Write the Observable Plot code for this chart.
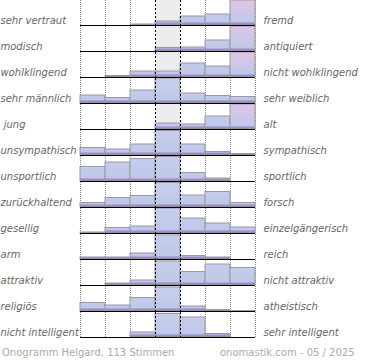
<!DOCTYPE html>
<html><head><meta charset="utf-8">
<script src="https://cdn.jsdelivr.net/npm/d3@7"></script>
<script src="https://cdn.jsdelivr.net/npm/@observablehq/plot@0.6"></script>
<style>
body{margin:0;background:#fff;}
#chart svg{display:block;}
svg text{white-space:pre;}
.cap{position:relative;width:370px;height:20px;font:10px "DejaVu Sans",sans-serif;color:#aaa;}
.cap span{position:absolute;top:7px;white-space:nowrap;}
</style></head><body>
<div id="chart"></div>
<div class="cap"><span style="left:2px">Onogramm Helgard, 113 Stimmen</span><span style="left:220px">onomastik.com - 05 / 2025</span></div>
<script>
const leftLabels = ["sehr vertraut","modisch","wohlklingend","sehr männlich"," jung","unsympathisch","unsportlich","zurückhaltend","gesellig","arm","attraktiv","religiös","nicht intelligent"];
const rightLabels = ["fremd","antiquiert","nicht wohlklingend","sehr weiblich","alt","sympathisch","sportlich","forsch","einzelgängerisch","reich","nicht attraktiv","atheistisch","sehr intelligent"];
// 7 answer steps per scale, left pole -> right pole
const votes = [
  [0, 0, 1, 4, 9, 11, 38],
  [0, 0, 0, 3.5, 4, 11, 42],
  [0, 1.5, 6, 6, 14, 11, 30],
  [8, 5.5, 13, 25, 10, 7.5, 6.5],
  [0, 0, 0, 6, 5, 13, 36],
  [7.5, 6, 11, 24.5, 11, 3.5, 1.5],
  [14.5, 19, 22.5, 24.5, 8.5, 3, 0],
  [4.5, 9.5, 11.5, 24.5, 12, 15.5, 4.5],
  [1, 5.5, 7, 25, 15, 10, 6],
  [2, 2, 6, 24, 3.5, 2, 0],
  [0, 2, 5, 24, 13.5, 21, 17.5],
  [8.5, 6, 13.5, 24, 5, 1.5, 0.5],
  [0, 0, 5, 23.5, 20, 3.5, 0]
];
const steps = 7;
const scaleMax = 25;

const rows = leftLabels.map((left, i) => ({row: i, left, right: rightLabels[i]}));
const bars = votes.flatMap((vals, row) => vals.map((v, col) => ({row, col, v}))).filter(d => d.v > 0);
const mid = Math.floor(steps / 2);
const bounds = d3.range(steps + 1);
const dotted = bounds.filter(b => b !== mid && b !== mid + 1);
const dashed = [mid, mid + 1];

const plot = Plot.plot({
  width: 370, height: 340,
  marginLeft: 80, marginRight: 115, marginTop: 0, marginBottom: 2,
  style: {fontFamily: '"DejaVu Sans", sans-serif', fontSize: "10px", background: "white", overflow: "visible"},
  x: {domain: [0, steps], axis: null},
  y: {domain: [0, scaleMax], insetBottom: 1, clamp: true, axis: null},
  fy: {domain: rows.map(d => d.row), padding: 0, axis: null},
  marks: [
    Plot.rect([mid], {x1: d => d, x2: d => d + 1, fill: "#ececec"}),
    Plot.ruleX(dotted, {stroke: "#888", strokeDasharray: "1,1"}),
    Plot.rect(bars, {filter: d => d.v <= scaleMax, x1: "col", x2: d => d.col + 1, y1: 0, y2: "v", fy: "row", fill: "url(#gBlue)", stroke: "#9a9a9a", strokeWidth: 1}),
    Plot.rect(bars, {filter: d => d.v > scaleMax, x1: "col", x2: d => d.col + 1, y1: 0, y2: "v", fy: "row", fill: "url(#gPink)", stroke: "#9a9a9a", strokeWidth: 1}),
    Plot.ruleY([0], {stroke: "#000", strokeWidth: 1}),
    Plot.ruleX(dashed, {stroke: "#000", strokeDasharray: "2,2"}),
    Plot.text(rows, {fy: "row", text: "left", frameAnchor: "left", textAnchor: "start", dx: -80, dy: 7, fill: "#666", fontStyle: "italic"}),
    Plot.text(rows, {fy: "row", text: "right", frameAnchor: "right", textAnchor: "start", dx: 8, dy: 7, fill: "#666", fontStyle: "italic"})
  ]
});
document.getElementById("chart").appendChild(plot);

const svg = plot.tagName.toLowerCase() === "svg" ? plot : plot.querySelector("svg");
const defs = d3.select(svg).insert("defs", ":first-child");
function grad(id, stops) {
  const g = defs.append("linearGradient").attr("id", id)
    .attr("gradientUnits", "userSpaceOnUse")
    .attr("x1", 0).attr("x2", 0).attr("y1", 0).attr("y2", 25);
  stops.forEach(([o, c]) => g.append("stop").attr("offset", o).attr("stop-color", c));
}
grad("gBlue", [[0, "#c8cfec"], [0.86, "#bfc8e9"], [0.91, "#a99fd6"], [1, "#8674b6"]]);
grad("gPink", [[0, "#dfc4e4"], [0.45, "#d0c6e8"], [0.86, "#bfc8e9"], [0.91, "#a99fd6"], [1, "#8674b6"]]);
</script></body></html>
